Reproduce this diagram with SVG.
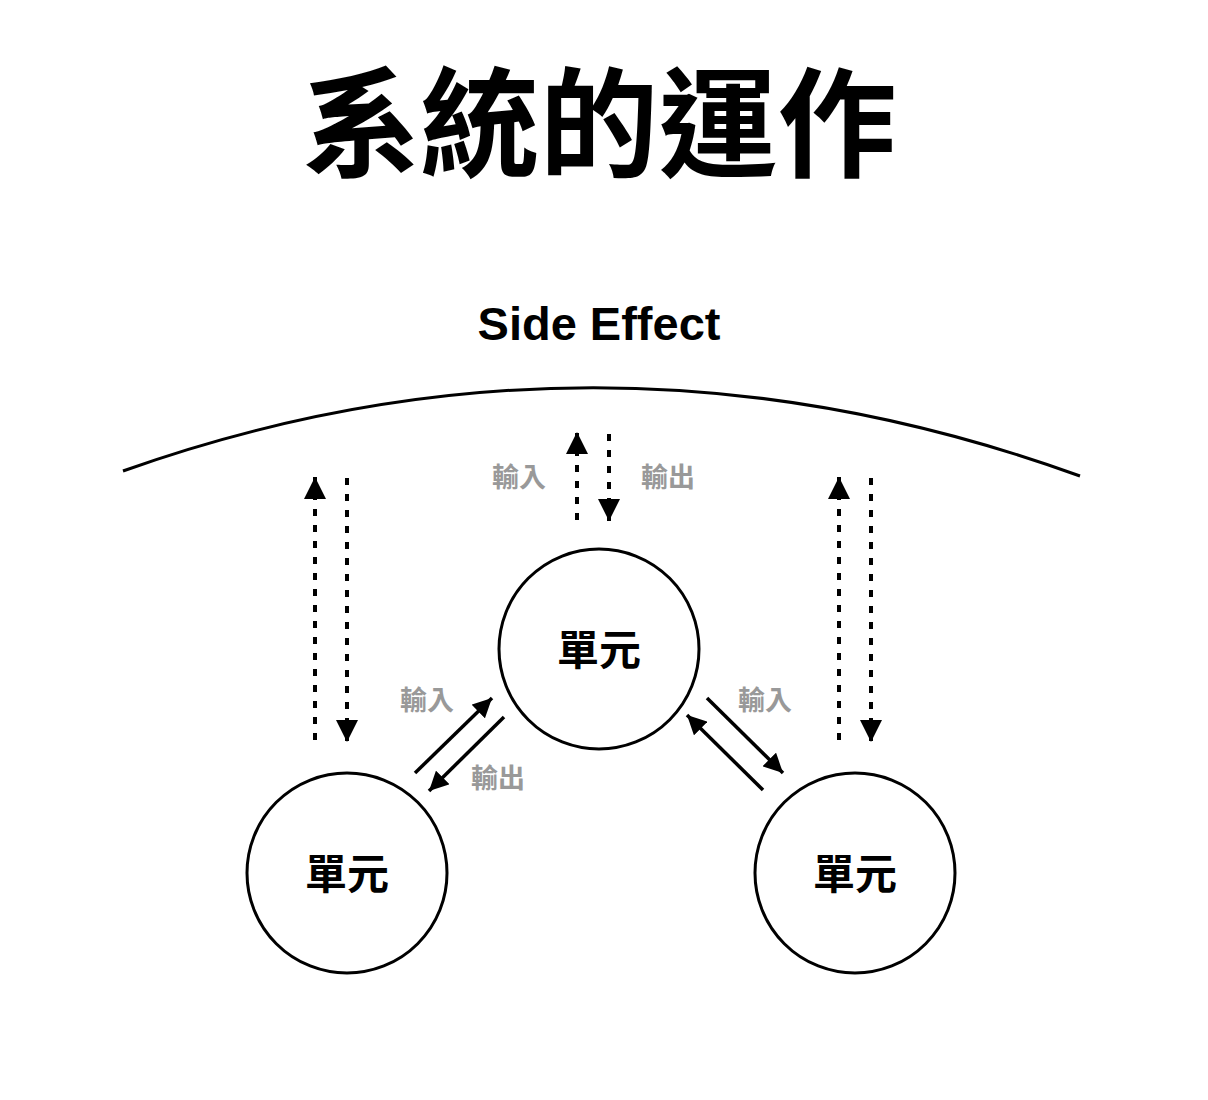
<svg xmlns="http://www.w3.org/2000/svg" width="1208" height="1100" viewBox="0 0 1208 1100">
<style>
.cjk{font-family:"Noto Sans CJK TC","Noto Sans CJK SC",sans-serif;font-weight:bold;text-anchor:middle}
.lbl{font-size:27px;fill:#999}
.unit{font-size:42px;fill:#000}
.node{fill:#fff;stroke:#000;stroke-width:3}
.dash{stroke:#000;stroke-width:4;stroke-dasharray:7 9;fill:none}
.solid{stroke:#000;stroke-width:3.5;fill:none}
</style>
<defs>
<marker id="ah" viewBox="0 0 10 10" refX="10" refY="5" markerWidth="5.5" markerHeight="5.5" markerUnits="strokeWidth" orient="auto">
<path d="M0,0 L10,5 L0,10 z" fill="#000"/>
</marker>
</defs>
<rect width="1208" height="1100" fill="#fff"/>
<text x="599" y="168" class="cjk" font-size="119">系統的運作</text>
<text x="599" y="340" text-anchor="middle" font-family="Liberation Sans, Arial, sans-serif" font-weight="bold" font-size="47">Side Effect</text>
<path d="M123,471 Q599,302 1080,476" fill="none" stroke="#000" stroke-width="3"/>
<g id="connectors">
<line class="dash" x1="577" y1="520" x2="577" y2="432" marker-end="url(#ah)"/>
<line class="dash" x1="609" y1="434" x2="609" y2="521" marker-end="url(#ah)"/>
<line class="dash" x1="315" y1="740" x2="315" y2="477" marker-end="url(#ah)"/>
<line class="dash" x1="347" y1="478" x2="347" y2="742" marker-end="url(#ah)"/>
<line class="dash" x1="839" y1="740" x2="839" y2="477" marker-end="url(#ah)"/>
<line class="dash" x1="871" y1="478" x2="871" y2="742" marker-end="url(#ah)"/>
<line class="solid" x1="415" y1="773" x2="492" y2="698" marker-end="url(#ah)"/>
<line class="solid" x1="504" y1="717" x2="429" y2="791" marker-end="url(#ah)"/>
<line class="solid" x1="707" y1="698" x2="783" y2="773" marker-end="url(#ah)"/>
<line class="solid" x1="763" y1="790" x2="687" y2="715" marker-end="url(#ah)"/>
</g>
<text x="519" y="487" class="cjk lbl">輸入</text>
<text x="668" y="487" class="cjk lbl">輸出</text>
<text x="427" y="710" class="cjk lbl">輸入</text>
<text x="498" y="788" class="cjk lbl">輸出</text>
<text x="765" y="710" class="cjk lbl">輸入</text>
<g id="node-top">
<circle class="node" cx="599" cy="649" r="100"/>
<text x="599" y="665" class="cjk unit">單元</text>
</g>
<g id="node-left">
<circle class="node" cx="347" cy="873" r="100"/>
<text x="347" y="889" class="cjk unit">單元</text>
</g>
<g id="node-right">
<circle class="node" cx="855" cy="873" r="100"/>
<text x="855" y="889" class="cjk unit">單元</text>
</g>
</svg>
